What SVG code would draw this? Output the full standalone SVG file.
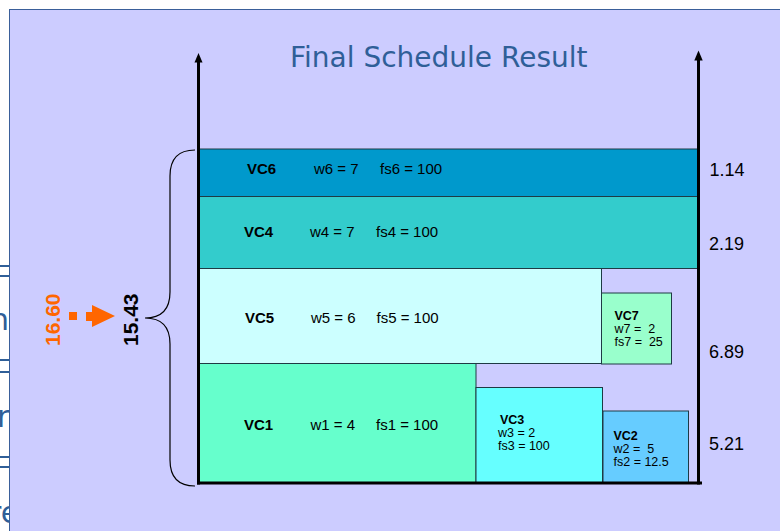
<svg xmlns="http://www.w3.org/2000/svg" width="780" height="531" viewBox="0 0 780 531">
<defs>
<style>
.box{stroke:#1e3a44;stroke-width:1}
.t{font-family:"Liberation Sans",Arial,sans-serif;font-size:15px;fill:#000}
.b{font-weight:bold}
.s{font-family:"Liberation Sans",Arial,sans-serif;font-size:12.5px;fill:#000;white-space:pre}
.r{font-family:"Liberation Sans",Arial,sans-serif;font-size:18px;fill:#000}
.frag{font-family:"DejaVu Sans",Verdana,sans-serif;font-size:30px;fill:#2f5f98}
.axis{stroke:#000;stroke-width:3;fill:none}
</style>
<clipPath id="leftclip"><rect x="0" y="0" width="9" height="531"/></clipPath>
</defs>
<rect x="0" y="0" width="780" height="531" fill="#ffffff"/>
<g id="fragments" clip-path="url(#leftclip)">
<rect x="0" y="265" width="9" height="2" fill="#2f5f98"/>
<rect x="0" y="275" width="9" height="2" fill="#2f5f98"/>
<rect x="0" y="359" width="9" height="2" fill="#2f5f98"/>
<rect x="0" y="371" width="9" height="2" fill="#2f5f98"/>
<rect x="0" y="456" width="9" height="2" fill="#2f5f98"/>
<rect x="0" y="466" width="9" height="2" fill="#2f5f98"/>
<text class="frag" x="-10" y="330">h</text>
<text class="frag" x="-3" y="427">r</text>
<text class="frag" x="-11" y="523">re</text>
</g>
<rect id="panel" x="9.5" y="9.5" width="775" height="530" fill="#ccccff" stroke="#3a5f9a" stroke-width="1"/>
<text id="title" x="290" y="67" font-family="'DejaVu Sans',Verdana,sans-serif" font-size="28" fill="#2f5f98">Final Schedule Result</text>
<g id="vc6"><rect class="box" x="199" y="149" width="499" height="47.5" fill="#0099cc"/>
<text class="t b" x="247" y="173.5">VC6</text><text class="t" x="314" y="173.5">w6 = 7</text><text class="t" x="380" y="173.5">fs6 = 100</text></g>
<g id="vc4"><rect class="box" x="199" y="196.5" width="499" height="72" fill="#33cccc"/>
<text class="t b" x="244" y="237">VC4</text><text class="t" x="310" y="237">w4 = 7</text><text class="t" x="376" y="237">fs4 = 100</text></g>
<g id="vc5"><rect class="box" x="199" y="268.5" width="402.5" height="95" fill="#ccffff"/>
<text class="t b" x="245" y="323">VC5</text><text class="t" x="311" y="323">w5 = 6</text><text class="t" x="376.5" y="323">fs5 = 100</text></g>
<g id="vc7"><rect class="box" x="601.5" y="293" width="70" height="71" fill="#99ffcc"/>
<text class="s b" x="614.5" y="320">VC7</text><text class="s" x="614.5" y="333" xml:space="preserve">w7 =  2</text><text class="s" x="614.5" y="346" xml:space="preserve">fs7 =  25</text></g>
<g id="vc1"><rect class="box" x="199" y="363.5" width="277" height="120" fill="#66ffcc"/>
<text class="t b" x="244" y="430">VC1</text><text class="t" x="310.5" y="430">w1 = 4</text><text class="t" x="376" y="430">fs1 = 100</text></g>
<g id="vc3"><rect class="box" x="476" y="387.5" width="126.5" height="96" fill="#66ffff"/>
<text class="s b" x="500" y="424">VC3</text><text class="s" x="498" y="437">w3 = 2</text><text class="s" x="498" y="450">fs3 = 100</text></g>
<g id="vc2"><rect class="box" x="603" y="411" width="85.5" height="72.5" fill="#66ccff"/>
<text class="s b" x="613.5" y="440">VC2</text><text class="s" x="613.5" y="453" xml:space="preserve">w2 =  5</text><text class="s" x="613.5" y="466">fs2 = 12.5</text></g>
<g id="values">
<text class="r" x="709.5" y="176">1.14</text>
<text class="r" x="709" y="249.5">2.19</text>
<text class="r" x="709" y="358">6.89</text>
<text class="r" x="709" y="449.5">5.21</text>
</g>
<g id="connectors">
<line class="axis" x1="198.5" y1="61" x2="198.5" y2="484.5"/>
<polygon points="198.5,53 194.5,62.5 202.5,62.5" fill="#000"/>
<line class="axis" x1="698.5" y1="59" x2="698.5" y2="484.5"/>
<polygon points="698.5,50.5 694.3,60.5 702.7,60.5" fill="#000"/>
<line class="axis" x1="197" y1="483" x2="702" y2="483"/>
<path d="M195,150 Q170,150 170,176 L170,292 Q170,318 145,318 Q170,318 170,344 L170,460 Q170,486 195,486" fill="none" stroke="#000" stroke-width="1.2"/>
<rect x="69" y="312" width="8" height="8" fill="#ff6600"/>
<polygon points="86,312 92,312 92,305 115,316 92,327 92,321 86,321" fill="#ff6600"/>
</g>
<g id="totals">
<text transform="translate(138,346) rotate(-90)" font-family="'Liberation Sans',Arial,sans-serif" font-size="21" font-weight="bold" fill="#000">15.43</text>
<text transform="translate(59.5,346) rotate(-90)" font-family="'Liberation Sans',Arial,sans-serif" font-size="21" font-weight="bold" fill="#ff6600">16.60</text>
</g>
</svg>
